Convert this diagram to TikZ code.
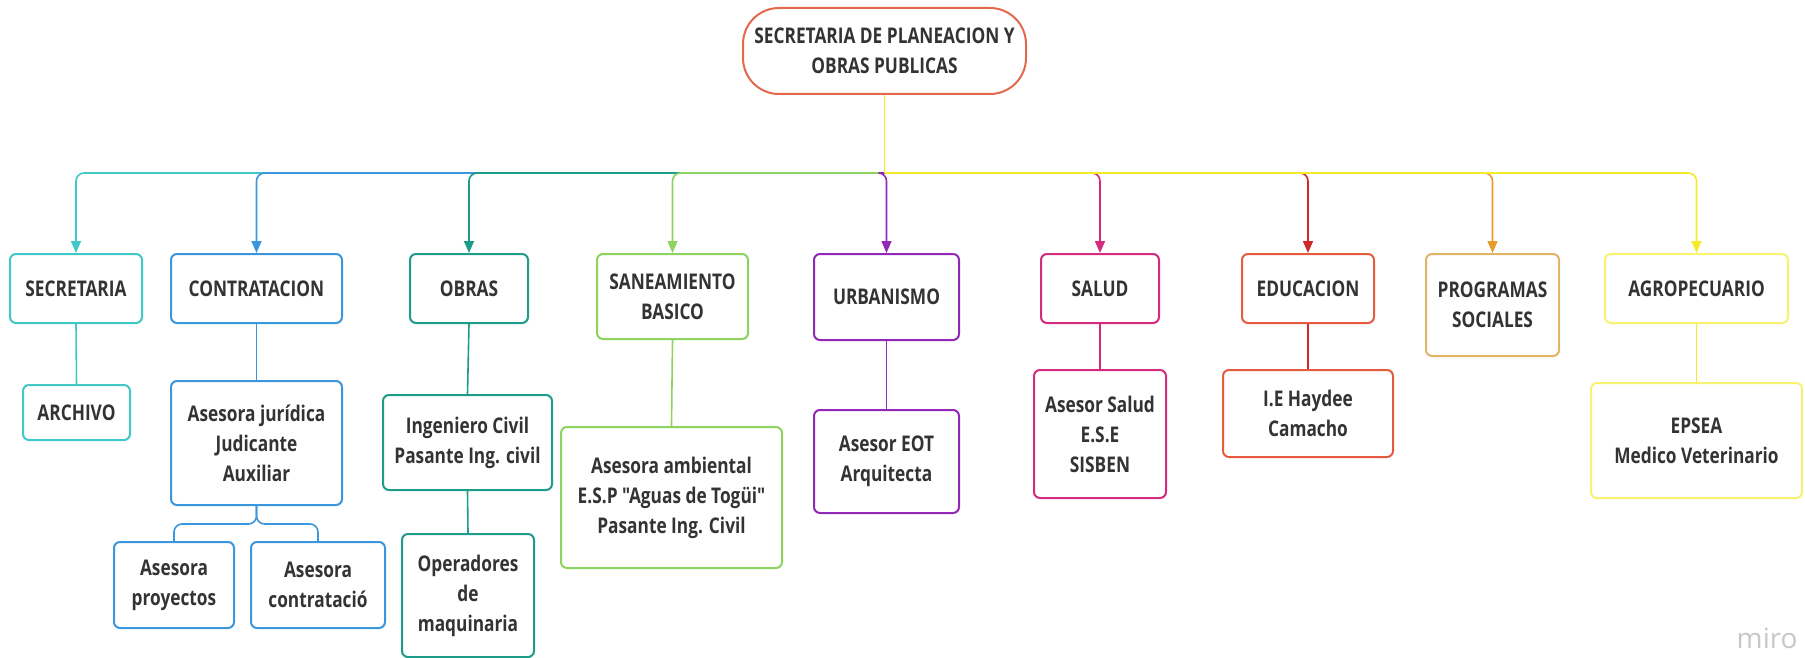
\documentclass[tikz,border=0pt]{standalone}
\usepackage{fontspec}
\newfontfamily\orgfont{Open Sans}[FakeStretch=0.8]
\newfontfamily\logofont{Open Sans}
\usepackage{tikz}
\usetikzlibrary{arrows.meta}
\definecolor{txt}{HTML}{333333}
\definecolor{ctop}{HTML}{E4694C}
\definecolor{csec}{HTML}{40C8C8}
\definecolor{ccon}{HTML}{3A96DD}
\definecolor{cobr}{HTML}{1E9C8A}
\definecolor{csan}{HTML}{8DD35F}
\definecolor{curb}{HTML}{9228B8}
\definecolor{csal}{HTML}{D42B7E}
\definecolor{cedu}{HTML}{CC2A2A}
\definecolor{bedu}{HTML}{E55B3F}
\definecolor{cpro}{HTML}{E89A2C}
\definecolor{bpro}{HTML}{E2B466}
\definecolor{cagr}{HTML}{F5EB2A}
\definecolor{bagr}{HTML}{F7F270}
\begin{document}
\begin{tikzpicture}[x=0.5pt, y=-0.5pt,
	box/.style={draw=#1, line width=1pt, rounded corners=3pt, fill=white, align=center,
		text=txt, inner sep=1pt, font=\orgfont\fontsize{10.8}{15}\selectfont\bfseries},
	sz/.style 2 args={minimum width=#1*0.5pt, minimum height=#2*0.5pt},
	link/.style={draw=#1, line width=0.8pt, rounded corners=4pt},
	tip/.style={-{Triangle[width=5pt, length=6pt]}}]
\useasboundingbox (0,0) rectangle (1805,658);
\node [box=ctop, sz={283}{86}, rounded corners=18pt] (top) at (884.5,51) {SECRETARIA DE PLANEACION Y\\OBRAS PUBLICAS};
% first level
\node [box=csec, sz={132}{69}] (sec) at (76,288.5) {SECRETARIA};
\node [box=ccon, sz={171}{69}] (con) at (256.5,288.5) {CONTRATACION};
\node [box=cobr, sz={118}{69}] (obr) at (469,288.5) {OBRAS};
\node [box=csan, sz={151}{85}] (san) at (672.5,296.5) {SANEAMIENTO\\BASICO};
\node [box=curb, sz={145}{86}] (urb) at (886.5,297) {URBANISMO};
\node [box=csal, sz={118}{69}] (sal) at (1100,288.5) {SALUD};
\node [box=bedu, sz={132}{69}] (edu) at (1308,288.5) {EDUCACION};
\node [box=bpro, sz={133}{102}] (pro) at (1492.5,305) {PROGRAMAS\\SOCIALES};
\node [box=bagr, sz={183}{69}] (agr) at (1696.5,288.5) {AGROPECUARIO};
% second level
\node [box=csec, sz={107}{55}] (arc) at (76.5,412.5) {ARCHIVO};
\node [box=ccon, sz={171}{124}] (jur) at (256.5,443) {Asesora jurídica\\Judicante\\Auxiliar};
\node [box=ccon, sz={120}{86}] (apr) at (174,585) {Asesora\\proyectos};
\node [box=ccon, sz={134}{86}] (act) at (318,585) {Asesora\\contratació};
\node [box=cobr, sz={169}{95}] (ing) at (467.5,442.5) {Ingeniero Civil\\Pasante Ing. civil};
\node [box=cobr, sz={132}{123}] (ope) at (468,595.5) {Operadores\\de\\maquinaria};
\node [box=csan, sz={221}{141}] (amb) at (671.5,497.5) {Asesora ambiental\\E.S.P "Aguas de Togüi"\\Pasante Ing. Civil};
\node [box=curb, sz={145}{103}] (eot) at (886.5,461.5) {Asesor EOT\\Arquitecta};
\node [box=csal, sz={132}{128}] (sas) at (1100,434) {Asesor Salud\\E.S.E\\SISBEN};
\node [box=bedu, sz={170}{87}] (hay) at (1308,413.5) {I.E Haydee\\Camacho};
\node [box=bagr, sz={211}{115}] (eps) at (1696.5,440.5) {EPSEA\\Medico Veterinario};
% connectors
\coordinate (bus) at (884.5,173);
\foreach \n/\c in {sec/csec, con/ccon, obr/cobr, san/csan, urb/curb, sal/csal, edu/cedu, pro/cpro, agr/cagr}
	\draw [link=\c, tip] (bus) -| (\n.north);
\draw [link=cagr] (top.south) -- (bus);
\foreach \a/\b/\c in {sec/arc/csec, con/jur/ccon, obr/ing/cobr, ing/ope/cobr, san/amb/csan, urb/eot/curb, sal/sas/csal, edu/hay/cedu, agr/eps/cagr}
	\draw [link=\c] (\a.south) -- (\b.north);
\draw [link=ccon] (jur.south) -- ++(0,18) -| (apr.north);
\draw [link=ccon] (jur.south) -- ++(0,18) -| (act.north);
\node [text=black!22, font=\logofont\fontsize{14}{14}\selectfont, anchor=base east, inner sep=0pt] (miro) at (1798,648) {miro};
\end{tikzpicture}
\end{document}
